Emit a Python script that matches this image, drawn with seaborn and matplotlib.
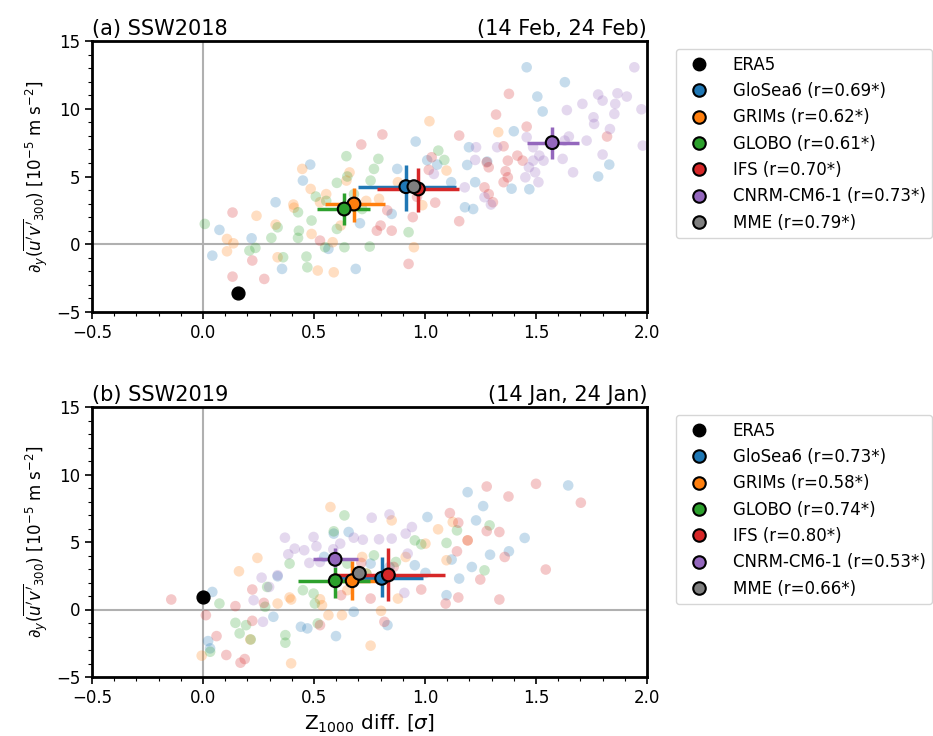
import numpy as np
import pandas as pd
import matplotlib
matplotlib.use("Agg")
import matplotlib.pyplot as plt
from matplotlib.lines import Line2D
from matplotlib.ticker import AutoMinorLocator
import seaborn as sns

models = ["GloSea6", "GRIMs", "GLOBO", "IFS", "CNRM-CM6-1"]
colors = {"GloSea6": "#1f77b4", "GRIMs": "#ff7f0e", "GLOBO": "#2ca02c",
          "IFS": "#d62728", "CNRM-CM6-1": "#9467bd", "MME": "#7f7f7f"}

# ---------------- Panel (a) SSW2018 : ensemble members ----------------
a_glosea_x = [1.458, 1.63, 1.506, 1.53, 1.40, 0.958, 1.198, 1.28, 0.483, 0.45, 0.875, 1.01, 1.055, 1.118,
              1.19, 1.39, 1.47, 1.226, 1.18, 1.217, 1.78, 1.83, 0.327, 0.707, 0.074, 0.219, 0.042, 0.356,
              0.688, 0.565, 0.85]
a_glosea_y = [13.06, 11.96, 10.9, 9.8, 8.34, 7.58, 7.16, 6.1, 5.88, 4.7, 5.56, 6.2, 5.88, 4.58,
              5.85, 4.1, 4.06, 4.58, 2.73, 2.6, 5.0, 5.88, 3.1, 1.55, 1.06, 0.44, -0.84, -1.82,
              -1.82, -0.34, 2.24]
a_grims_x = [1.02, 0.447, 0.485, 0.66, 0.646, 0.407, 0.241, 0.108, 0.137, 0.108, 0.327, 0.336, 0.517,
             0.589, 0.489, 0.584, 0.527, 0.62, 0.878, 0.95, 1.33, 0.988, 0.555, 0.735, 0.793, 1.097, 0.41]
a_grims_y = [9.08, 5.56, 4.08, 5.3, 4.7, 2.93, 2.1, 0.39, 0.07, -0.52, 1.45, -0.96, -1.94,
             -2.07, 0.76, 0.15, 3.1, 1.38, 4.58, -0.22, 8.27, 2.88, 3.7, 3.2, 3.35, 5.44, 2.7]
a_globo_x = [0.008, 0.209, 0.236, 0.308, 0.336, 0.361, 0.428, 0.428, 0.432, 0.466, 0.47, 0.489, 0.55,
             0.508, 0.603, 0.646, 0.65, 0.637, 0.603, 0.751, 0.755, 0.77, 0.79, 0.926, 1.06, 1.087,
             0.555, 0.68, 0.717]
a_globo_y = [1.5, -0.47, -0.27, 0.47, 1.25, -0.96, 2.36, 0.47, 1.0, -0.91, -1.7, 1.75, -0.22,
             3.52, 4.53, 6.5, 5.0, -0.22, 1.13, -0.17, 4.7, 5.56, 6.3, 0.89, 6.91, 6.22,
             3.2, 3.7, 2.6]
a_ifs_x = [1.378, 1.32, 1.154, 0.808, 0.713, 1.458, 1.82, 1.354, 1.373, 1.44, 1.278, 1.287, 1.363,
           1.373, 1.354, 1.268, 1.287, 1.306, 1.154, 1.046, 1.017, 1.03, 0.964, 0.945, 0.83, 0.80,
           0.85, 0.783, 0.527, 0.926, 0.222, 0.133, 0.133, 0.276, 1.416]
a_ifs_y = [11.1, 9.57, 8.02, 8.1, 7.36, 8.68, 7.95, 7.23, 6.17, 6.17, 6.05, 5.68, 5.39,
           4.94, 4.58, 4.2, 3.7, 3.1, 1.7, 3.07, 5.49, 6.42, 3.5, 2.0, 2.5, 1.38,
           1.0, 1.0, 0.27, -1.45, -1.2, 2.34, -2.39, -2.56, 6.54]
a_cnrm_x = [1.943, 1.867, 1.909, 1.78, 1.80, 1.709, 1.857, 1.639, 1.975, 1.853, 1.759, 1.762, 1.833,
            1.981, 1.728, 1.648, 1.629, 1.458, 1.487, 1.515, 1.487, 1.468, 1.496, 1.511, 1.452, 1.62,
            1.667, 1.80, 1.534, 1.325, 1.226, 1.179, 1.268, 1.297, 1.04, 1.23]
a_cnrm_y = [13.06, 11.14, 10.9, 11.05, 10.6, 10.36, 10.36, 9.9, 9.96, 9.62, 9.37, 8.88, 8.5,
            7.28, 7.65, 7.95, 7.65, 7.9, 7.16, 6.54, 6.17, 5.68, 5.31, 4.58, 4.94, 6.3,
            5.31, 6.62, 6.17, 7.16, 6.22, 4.2, 3.47, 2.93, 5.19, 7.16]

# ---------------- Panel (b) SSW2019 : ensemble members ----------------
b_glosea_x = [1.645, 1.192, 1.262, 1.23, 1.011, 1.449, 1.378, 1.293, 1.211, 1.154, 1.097, 1.002, 0.954,
              0.84, 0.656, 0.589, 0.546, 0.831, 0.599, 0.47, 0.441, 0.317, 0.336, 0.042, 0.023, 0.032,
              0.679, 0.755, 1.12]
b_glosea_y = [9.19, 8.69, 7.66, 6.6, 6.85, 5.3, 4.31, 4.06, 3.15, 2.29, 1.06, 2.71, 3.28,
              3.15, 5.74, 5.62, 3.9, -1.16, -1.97, -1.4, -1.28, -0.54, 2.46, 1.3, -2.34, -2.88,
              -0.17, 3.4, 3.7]
b_grims_x = [0.574, 0.85, 1.059, 1.125, 1.192, 1.002, 0.913, 1.097, 0.245, 0.162, 0.336, 0.39, 0.397,
             0.527, 0.536, 0.565, 0.626, 0.755, 0.397, -0.006, 0.213, 0.878, 0.65, 0.717, 0.802, 0.736]
b_grims_y = [7.59, 6.6, 5.94, 6.48, 5.12, 4.88, 3.89, 3.65, 3.82, 2.83, 0.44, 0.89, 0.74,
             0.76, 0.32, -0.42, -0.42, -2.68, -3.99, -3.42, -2.22, 0.81, 1.43, 3.89, -0.1, 2.66]
b_globo_x = [0.637, 0.589, 1.291, 1.144, 1.097, 0.954, 0.983, 1.268, 0.869, 0.77, 0.736, 0.39, 0.289,
             0.074, 0.146, 0.194, 0.165, 0.215, 0.032, 0.371, 0.371, 0.504, 0.498, 0.45, 0.28, 0.517,
             0.65]
b_globo_y = [6.97, 5.79, 6.23, 5.86, 4.93, 5.12, 4.83, 2.9, 3.52, 4.01, 2.66, 3.4, 1.67,
             0.44, -0.99, -1.16, -1.77, -2.22, -3.13, -1.9, -2.46, 0.44, 1.18, 1.43, 0.2, -1.03,
             3.4]
b_ifs_x = [1.5, 1.278, 1.376, 1.702, 1.112, 1.15, 1.278, 1.335, 1.192, 1.144, 1.359, 1.544, 1.249,
           1.15, 1.093, 1.335, 0.983, 0.859, 0.713, 0.622, 0.222, 0.274, 0.222, 0.146, 0.061, 0.013,
           -0.143, 0.105, 0.188, 0.169, 0.527, 0.817, 0.755]
b_ifs_y = [9.31, 9.11, 8.37, 7.91, 7.14, 6.43, 5.81, 5.74, 5.12, 4.31, 3.89, 2.96, 2.22,
           0.89, 0.44, 0.74, 1.48, 3.15, 3.45, 1.06, 1.48, 0.49, -0.84, 0.25, -1.97, -0.42,
           0.74, -3.37, -3.67, -3.94, -1.16, -0.91, 0.81]
b_cnrm_x = [0.84, 0.76, 0.941, 0.913, 0.85, 0.793, 0.72, 0.679, 0.498, 0.511, 0.369, 0.413, 0.384,
            0.479, 0.527, 0.922, 0.336, 0.264, 0.298, 0.228, 0.27, 0.907, 0.587, 0.618, 0.456]
b_cnrm_y = [7.04, 6.8, 6.11, 5.62, 5.25, 5.2, 5.17, 5.32, 5.37, 4.68, 5.32, 4.51, 4.09,
            3.45, 3.52, 4.14, 2.54, 2.36, 1.67, 0.69, -0.91, 1.23, 4.46, 4.88, 4.39]

# ---------------- Means with ranges (x, xlo, xhi, y, ylo, yhi) ----------------
a_mean_names = ["GloSea6", "GRIMs", "GLOBO", "IFS", "CNRM-CM6-1", "MME"]
a_mean_x = [0.914, 0.68, 0.636, 0.97, 1.573, 0.95]
a_mean_xlo = [0.70, 0.55, 0.515, 0.785, 1.458, 0.95]
a_mean_xhi = [1.14, 0.82, 0.75, 1.155, 1.695, 0.95]
a_mean_y = [4.25, 2.97, 2.6, 4.08, 7.5, 4.25]
a_mean_ylo = [2.48, 1.65, 1.42, 2.4, 6.27, 4.25]
a_mean_yhi = [5.85, 4.15, 3.79, 5.6, 8.63, 4.25]
a_era5 = (0.156, -3.62)

b_mean_names = ["GloSea6", "GRIMs", "GLOBO", "IFS", "CNRM-CM6-1", "MME"]
b_mean_x = [0.805, 0.672, 0.596, 0.835, 0.595, 0.704]
b_mean_xlo = [0.62, 0.56, 0.43, 0.587, 0.497, 0.704]
b_mean_xhi = [0.99, 0.80, 0.75, 1.09, 0.70, 0.704]
b_mean_y = [2.31, 2.13, 2.13, 2.56, 3.72, 2.68]
b_mean_ylo = [0.9, 0.7, 0.83, 0.63, 3.17, 2.68]
b_mean_yhi = [3.87, 3.6, 3.17, 4.53, 4.58, 2.68]
b_era5 = (0.0, 0.92)

a_r = ["0.69*", "0.62*", "0.61*", "0.70*", "0.73*", "0.79*"]
b_r = ["0.73*", "0.58*", "0.74*", "0.80*", "0.53*", "0.66*"]

panels = [
    dict(title="(a) SSW2018", dates="(14 Feb, 24 Feb)",
         pts={"GloSea6": (a_glosea_x, a_glosea_y), "GRIMs": (a_grims_x, a_grims_y),
              "GLOBO": (a_globo_x, a_globo_y), "IFS": (a_ifs_x, a_ifs_y),
              "CNRM-CM6-1": (a_cnrm_x, a_cnrm_y)},
         names=a_mean_names, mx=a_mean_x, mxlo=a_mean_xlo, mxhi=a_mean_xhi,
         my=a_mean_y, mylo=a_mean_ylo, myhi=a_mean_yhi, era5=a_era5, r=a_r),
    dict(title="(b) SSW2019", dates="(14 Jan, 24 Jan)",
         pts={"GloSea6": (b_glosea_x, b_glosea_y), "GRIMs": (b_grims_x, b_grims_y),
              "GLOBO": (b_globo_x, b_globo_y), "IFS": (b_ifs_x, b_ifs_y),
              "CNRM-CM6-1": (b_cnrm_x, b_cnrm_y)},
         names=b_mean_names, mx=b_mean_x, mxlo=b_mean_xlo, mxhi=b_mean_xhi,
         my=b_mean_y, mylo=b_mean_ylo, myhi=b_mean_yhi, era5=b_era5, r=b_r),
]

sns.set_style("ticks")
plt.rcParams["font.family"] = ["DejaVu Sans"]
plt.rcParams["font.size"] = 12
plt.rcParams["mathtext.fontset"] = "dejavusans"
for k in ["text.color", "axes.labelcolor", "xtick.color", "ytick.color", "axes.edgecolor"]:
    plt.rcParams[k] = "black"

fig = plt.figure(figsize=(9.33, 7.36), dpi=100)
axes = [fig.add_axes([92/933, 1-312/736, 555/933, 271/736]),
        fig.add_axes([92/933, 1-677/736, 555/933, 270/736])]

for ax, p in zip(axes, panels):
    rows = []
    for m in models:
        xs, ys = p["pts"][m]
        for x, y in zip(xs, ys):
            rows.append((m, x, y))
    df = pd.DataFrame(rows, columns=["model", "x", "y"])
    ax.axvline(0, color="#b0b0b0", lw=1.5, zorder=0)
    ax.axhline(0, color="#b0b0b0", lw=1.5, zorder=0)
    sns.scatterplot(data=df, x="x", y="y", hue="model", palette=colors, hue_order=models,
                    alpha=0.25, s=58, linewidth=0, legend=False, ax=ax, zorder=2)
    mdf = pd.DataFrame({"model": p["names"], "x": p["mx"], "y": p["my"],
                        "xlo": p["mxlo"], "xhi": p["mxhi"], "ylo": p["mylo"], "yhi": p["myhi"]})
    for _, row in mdf.iterrows():
        if row["model"] != "MME":
            ax.errorbar(row["x"], row["y"],
                        xerr=[[row["x"] - row["xlo"]], [row["xhi"] - row["x"]]],
                        yerr=[[row["y"] - row["ylo"]], [row["yhi"] - row["y"]]],
                        fmt="none", ecolor=colors[row["model"]], elinewidth=2.5,
                        capsize=0, zorder=3)
    sns.scatterplot(data=mdf, x="x", y="y", hue="model", palette=colors,
                    hue_order=p["names"], s=85, edgecolor="black", linewidth=1.5,
                    legend=False, ax=ax, zorder=4)
    ax.scatter([p["era5"][0]], [p["era5"][1]], s=85, color="black", zorder=5)

    ax.set_xlim(-0.5, 2.0)
    ax.set_ylim(-5, 15)
    ax.set_xticks([-0.5, 0.0, 0.5, 1.0, 1.5, 2.0])
    ax.set_yticks([-5, 0, 5, 10, 15])
    ax.xaxis.set_minor_locator(AutoMinorLocator(5))
    ax.yaxis.set_minor_locator(AutoMinorLocator(5))
    ax.tick_params(which="major", length=5, width=1.2, labelsize=12)
    ax.tick_params(which="minor", length=3, width=0.8)
    for s in ax.spines.values():
        s.set_linewidth(2.0)
        s.set_color("black")
    ax.set_ylabel(r"$\partial_y(\overline{u'v'}_{300})$ [$10^{-5}$ m s$^{-2}$]", fontsize=12)
    ax.set_xlabel("")
    ax.set_title(p["title"], loc="left", fontsize=15, pad=4)
    ax.set_title(p["dates"], loc="right", fontsize=15, pad=4)

    handles = [Line2D([], [], marker="o", ls="none", color="black", markersize=9,
                      markeredgecolor="black")]
    labels = ["ERA5"]
    for name, r in zip(p["names"], p["r"]):
        handles.append(Line2D([], [], marker="o", ls="none", markerfacecolor=colors[name],
                              markeredgecolor="black", markeredgewidth=1.5, markersize=9))
        labels.append(f"{name} (r={r})")
    ax.legend(handles, labels, loc="upper left", bbox_to_anchor=(1.052, 0.97),
              borderaxespad=0, fontsize=12, frameon=True, handletextpad=1.0)

axes[1].set_xlabel(r"Z$_{1000}$ diff. [$\sigma$]", fontsize=14.5)

fig.savefig("out.png", dpi=100)
